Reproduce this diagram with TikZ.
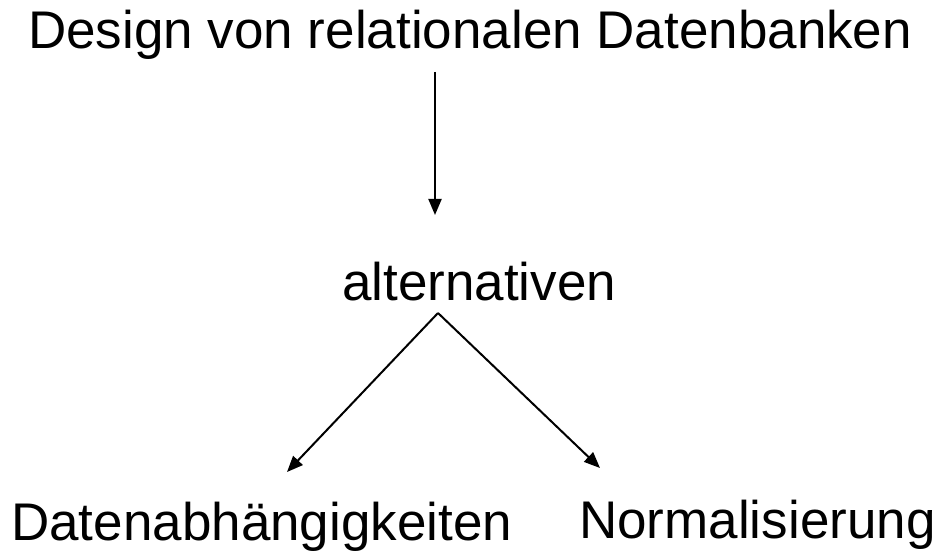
\documentclass[tikz,border=0pt]{standalone}
\usepackage{fontspec}
\setmainfont{Liberation Sans}
\usetikzlibrary{arrows.meta}
\begin{document}
\begin{tikzpicture}[x=1pt,y=-1pt,
  lbl/.style={anchor=base west,inner sep=0pt,font=\fontsize{53}{60}\selectfont},
  arr/.style={line width=2pt,-{Triangle[length=16pt,width=13pt]}}]
\useasboundingbox (0,0) rectangle (941,553);
\node[lbl] (t) at (28,49) {Design von relationalen Datenbanken};
\node[lbl] (a) at (342,300) {alternativen};
\node[lbl] (l) at (11,540) {Datenabhängigkeiten};
\node[lbl] (r) at (579,538) {Normalisierung};
\coordinate (tout) at (435,72);
\coordinate (ain) at (435,215);
\coordinate (aout) at (438,313);
\coordinate (lin) at (287,472);
\coordinate (rin) at (600,468);
\draw[arr] (tout) -- (ain);
\draw[arr] (aout) -- (lin);
\draw[arr] (aout) -- (rin);
\end{tikzpicture}
\end{document}
